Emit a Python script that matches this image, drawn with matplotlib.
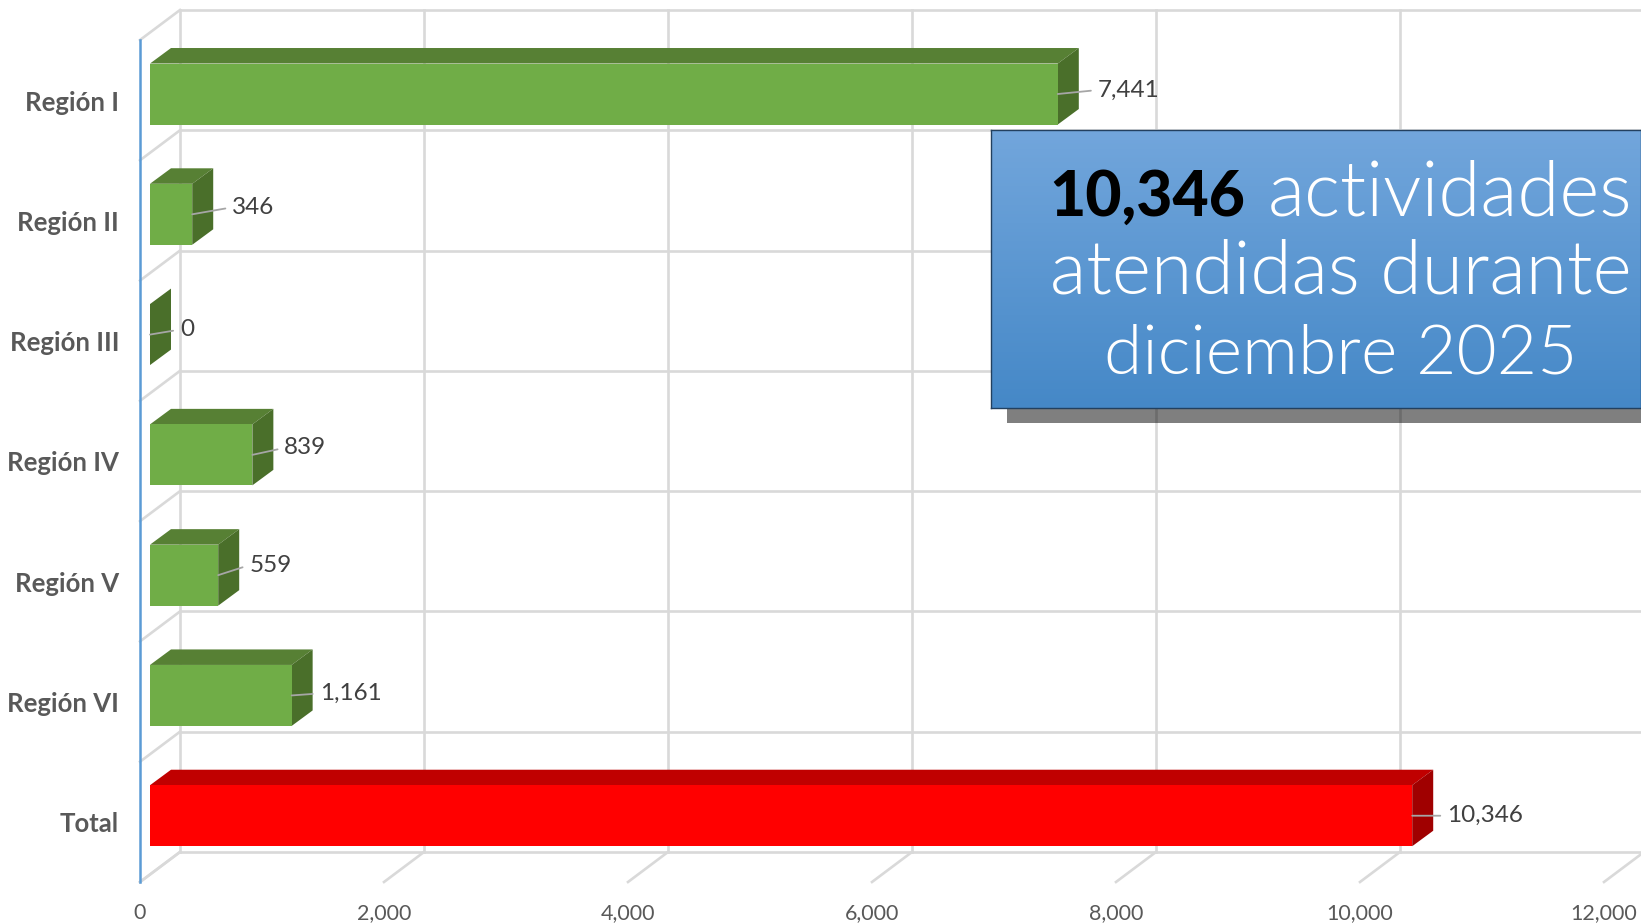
import matplotlib
matplotlib.use('Agg')
import matplotlib.pyplot as plt
from matplotlib.patches import Rectangle
import numpy as np

regiones = ['Región I', 'Región II', 'Región III', 'Región IV', 'Región V', 'Región VI', 'Total']
valores = [7441, 346, 0, 839, 559, 1161, 10346]
etiquetas = ['7,441', '346', '0', '839', '559', '1,161', '10,346']
ticks_x = [0, 2000, 4000, 6000, 8000, 10000, 12000]

# desplazamiento de cada etiqueta respecto al final de la barra (px)
etiq_dx = [40, 40, 30, 32, 31, 28, 35]
etiq_dy = [4, 7, 5, 7, 10, 2, 0]

W, H = 1641, 924
px_x = 0.122     # px por unidad
px_y = 120.3     # px por categoria

plt.rcParams['font.family'] = ['Lato', 'DejaVu Sans']
fig = plt.figure(figsize=(W / 100, H / 100), dpi=100, facecolor='white')
ax = fig.add_axes([140 / W, 1 - 882 / H, (W - 140) / W, (882 - 40) / H])
ax.set_xlim(0, (W - 140) / px_x)
ax.set_ylim(7, 0)
ax.set_facecolor('none')

### paredes del grafico 3D
gris = '#d9d9d9'
fx = 40 / px_x     # fondo de la pared
fy = -30 / px_y
xmax = ax.get_xlim()[1]
for k in range(8):
    ax.plot([fx, xmax], [k + fy, k + fy], color=gris, lw=1.9, clip_on=False, zorder=1)
    ax.plot([0, fx], [k, k + fy], color=gris, lw=1.9, clip_on=False, zorder=1)
for v in ticks_x:
    ax.plot([v + fx, v + fx], [fy, 7 + fy], color=gris, lw=1.9, clip_on=False, zorder=1)
    ax.plot([v, v + fx], [7, 7 + fy], color=gris, lw=1.9, clip_on=False, zorder=1)

### barras
x0 = 10 / px_x
alto = 61 / px_y
dx = 21 / px_x
dy = -15.5 / px_y
for i in range(len(valores)):
    v = valores[i]
    yc = i + 0.449
    if regiones[i] == 'Total':
        col, tapa, lado = '#ff0000', '#c00000', '#a00000'
    else:
        col, tapa, lado = '#70ad47', '#578034', '#4a6f2a'
    y1, y2 = yc - alto / 2, yc + alto / 2
    ax.barh(yc, v, height=alto, left=x0, color=col, zorder=4, edgecolor='none')
    ax.fill([x0, x0 + v, x0 + v + dx, x0 + dx], [y1, y1, y1 + dy, y1 + dy],
            color=tapa, lw=0, zorder=3, clip_on=False)
    ax.fill([x0 + v, x0 + v + dx, x0 + v + dx, x0 + v], [y1, y1 + dy, y2 + dy, y2],
            color=lado, lw=0, zorder=3, clip_on=False)
    ax.annotate(etiquetas[i], xy=(x0 + v, yc), xytext=(etiq_dx[i], etiq_dy[i]),
                textcoords='offset pixels', ha='left', va='center', fontsize=17.5,
                color='#404040', zorder=6,
                arrowprops=dict(arrowstyle='-', color='#a6a6a6', lw=1.3, relpos=(0, 0.5),
                                shrinkA=5, shrinkB=0, patchA=None))

### ejes
for s in ['top', 'right', 'bottom']:
    ax.spines[s].set_visible(False)
ax.spines['left'].set_color('#5b9bd5')
ax.spines['left'].set_linewidth(1.8)
ax.set_xticks(ticks_x)
ax.set_xticklabels([f'{v:,}' for v in ticks_x])
ax.set_yticks(np.arange(7) + 0.503)
ax.set_yticklabels(regiones, fontweight='bold')
ax.tick_params(axis='x', length=0, pad=15, labelsize=15.5, labelcolor='#595959')
ax.tick_params(axis='y', length=0, pad=15, labelsize=18.5, labelcolor='#595959')

### cuadro azul
fig.add_artist(Rectangle((1007 / W, 1 - 423 / H), (W - 1007) / W, (423 - 390) / H,
                         transform=fig.transFigure, color='black', alpha=0.5, lw=0, zorder=2))
box = fig.add_axes([991 / W, 1 - 408 / H, (W - 991) / W, (408 - 130) / H], zorder=3)
arriba = np.array([0x72, 0xa6, 0xdc]) / 255
abajo = np.array([0x45, 0x88, 0xc7]) / 255
t = np.linspace(0, 1, 200)[:, None, None]
box.imshow(arriba * (1 - t) + abajo * t, aspect='auto')
box.set_xticks([])
box.set_yticks([])
for s in box.spines.values():
    s.set_color('#22405f')
    s.set_linewidth(1)

def texto(x, y, s, size, **kw):
    fig.text(x / W, 1 - y / H, s, va='baseline', zorder=5, fontsize=size, **kw)

texto(1245, 216, '10,346', 45, ha='right', color='black', fontweight='black')
texto(1268, 216, 'actividades', 55, ha='left', color='white', fontweight=300)
texto(1341, 294, 'atendidas durante', 54, ha='center', color='white', fontweight=300)
texto(1341, 374, 'diciembre 2025', 50, ha='center', color='white', fontweight=300)

plt.savefig('out.png', dpi=100)
